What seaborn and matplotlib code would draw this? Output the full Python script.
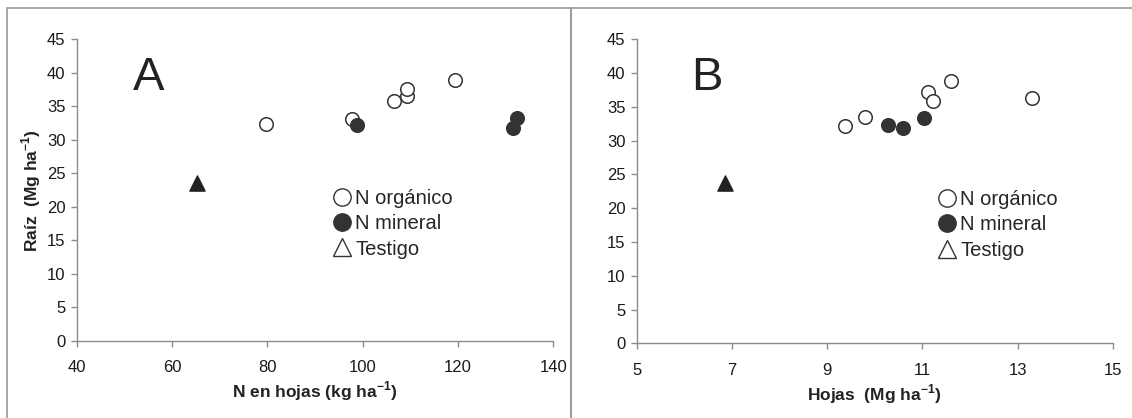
"""Raíz vs N en hojas (A) y vs Hojas (B): dispersión por tratamiento."""

import matplotlib.pyplot as plt
import pandas as pd
import seaborn as sns
from matplotlib.lines import Line2D
from matplotlib.patches import Rectangle

# Panel A: N en hojas (kg ha-1) vs Raíz (Mg ha-1)
a_org_x = [79.8, 97.7, 106.6, 109.4, 109.4, 119.3]
a_org_y = [32.3, 33.1, 35.8, 36.6, 37.6, 39.0]
a_min_x = [98.9, 131.5, 132.3]
a_min_y = [32.2, 31.8, 33.2]
a_test_x = [65.2]
a_test_y = [23.5]

# Panel B: Hojas (Mg ha-1) vs Raíz (Mg ha-1)
b_org_x = [9.37, 9.80, 11.11, 11.22, 11.60, 13.30]
b_org_y = [32.2, 33.45, 37.15, 35.9, 38.8, 36.3]
b_min_x = [10.28, 10.60, 11.04]
b_min_y = [32.3, 31.8, 33.3]
b_test_x = [6.86]
b_test_y = [23.7]

labels = ["N orgánico", "N mineral", "Testigo"]
y_ticks = list(range(0, 46, 5))
a_xticks = [40, 60, 80, 100, 120, 140]
b_xticks = [5, 7, 9, 11, 13, 15]

DARK = "#333333"
AXIS_GRAY = "#8c8c8c"

sns.set_theme(style="white")
plt.rcParams["font.family"] = ["Liberation Sans", "DejaVu Sans"]


def make_frame(x, y, label):
    return pd.DataFrame({"x": x, "y": y, "grupo": label})


def draw_panel(ax, org, mineral, testigo, xticks, xlabel, letter, letter_x, legend_anchor):
    sns.scatterplot(data=org, x="x", y="y", marker="o", color="white",
                    edgecolor=DARK, linewidth=1.1, s=95, ax=ax, zorder=3)
    sns.scatterplot(data=mineral, x="x", y="y", marker="o", color=DARK,
                    edgecolor=DARK, linewidth=1.1, s=95, ax=ax, zorder=3)
    sns.scatterplot(data=testigo, x="x", y="y", marker="^", color="#222222",
                    edgecolor="#222222", linewidth=1.0, s=120, ax=ax, zorder=3)

    ax.set_xlim(xticks[0], xticks[-1])
    ax.set_ylim(0, 45)
    ax.set_xticks(xticks)
    ax.set_yticks(y_ticks)
    ax.set_xlabel(xlabel, fontsize=12.5, fontweight="bold", labelpad=3, color="#222222")
    ax.set_ylabel("")
    sns.despine(ax=ax)
    for side in ("left", "bottom"):
        ax.spines[side].set_color(AXIS_GRAY)
        ax.spines[side].set_linewidth(1.0)
    ax.tick_params(axis="both", colors=AXIS_GRAY, length=4, width=1.0,
                   labelcolor="#1a1a1a", labelsize=12, direction="out")
    ax.tick_params(axis="x", pad=10, bottom=True)
    ax.tick_params(axis="y", pad=4, left=True)
    ax.set_facecolor("none")

    ax.text(letter_x, 0.832, letter, transform=ax.transAxes, fontsize=34,
            color="#222222", ha="left", va="baseline")

    handles = [
        Line2D([], [], marker="o", linestyle="", markersize=12.5,
               markerfacecolor="white", markeredgecolor=DARK, markeredgewidth=1.0),
        Line2D([], [], marker="o", linestyle="", markersize=12.5,
               markerfacecolor=DARK, markeredgecolor=DARK),
        Line2D([], [], marker="^", linestyle="", markersize=12.5,
               markerfacecolor="white", markeredgecolor=DARK, markeredgewidth=1.0),
    ]
    ax.legend(handles, labels, loc="upper left", bbox_to_anchor=legend_anchor,
              frameon=False, fontsize=14.5, handlelength=0.8, handletextpad=0.25,
              labelspacing=0.32, borderpad=0, borderaxespad=0)


fig = plt.figure(figsize=(11.32, 4.18), dpi=100)

# panel frames (gray boxes as in the source figure)
fig.add_artist(Rectangle((7.3 / 1132, -0.05), (570.7 - 7.3) / 1132, (418 - 8.3) / 418 + 0.05,
                         transform=fig.transFigure, fill=False,
                         edgecolor="#9a9a9a", linewidth=1.2))
fig.add_artist(Rectangle((570.7 / 1132, -0.05), 0.6, (418 - 8.3) / 418 + 0.05,
                         transform=fig.transFigure, fill=False,
                         edgecolor="#9a9a9a", linewidth=1.2))

ax_a = fig.add_axes([76.7 / 1132, 77 / 418, 476.6 / 1132, 301.7 / 418])
ax_b = fig.add_axes([636.7 / 1132, 74.7 / 418, 476.0 / 1132, 304.0 / 418])

draw_panel(ax_a,
           make_frame(a_org_x, a_org_y, labels[0]),
           make_frame(a_min_x, a_min_y, labels[1]),
           make_frame(a_test_x, a_test_y, labels[2]),
           a_xticks, "N en hojas (kg ha$^{\\mathregular{-1}}$)", "A", 0.118, (0.54, 0.505))
draw_panel(ax_b,
           make_frame(b_org_x, b_org_y, labels[0]),
           make_frame(b_min_x, b_min_y, labels[1]),
           make_frame(b_test_x, b_test_y, labels[2]),
           b_xticks, "Hojas  (Mg ha$^{\\mathregular{-1}}$)", "B", 0.115, (0.635, 0.505))

ax_a.set_ylabel("Raíz  (Mg ha$^{\\mathregular{-1}}$)", fontsize=12.5,
                fontweight="bold", labelpad=3, color="#222222")

fig.savefig("out.png", dpi=100)
